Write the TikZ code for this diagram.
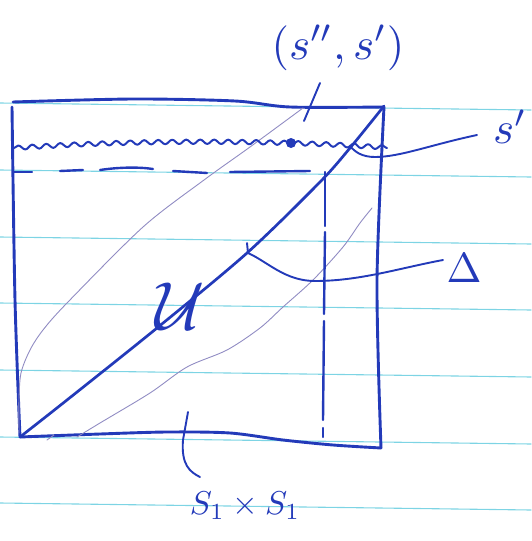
\documentclass[tikz,border=0pt]{standalone}
\usetikzlibrary{decorations.pathmorphing}
\definecolor{ink}{RGB}{35,58,185}
\definecolor{pencil}{RGB}{145,140,195}
\definecolor{paperrule}{RGB}{125,212,228}
\begin{document}
\begin{tikzpicture}[x=1pt,y=-1pt,line cap=round,line join=round,
  boxline/.style={ink,line width=2.9pt},
  diag/.style={ink,line width=2.7pt},
  thin/.style={pencil,line width=0.9pt},
  lead/.style={ink,line width=1.9pt},
  dashline/.style={ink,line width=2.4pt},
  lbl/.style={ink,inner sep=0pt}]
\useasboundingbox (0,0) rectangle (531,541);
% paper rules
\foreach \yy in {103,170,237,303,370,437,503}
  \draw[paperrule,line width=1.1pt] (0,\yy) -- (531,{\yy+7});
% square
\draw[boxline] plot[smooth,tension=0.5] coordinates {(13,102) (133,99) (235,101) (290,107) (384,107)};
\draw[boxline] plot[smooth] coordinates {(384,107) (377,280) (381,448)};
\draw[boxline] plot[smooth,tension=0.5] coordinates {(381,448) (333,445) (283,440) (230,433) (167,432) (100,434) (20,437)};
\draw[boxline] plot[smooth] coordinates {(20,437) (15,300) (12,107)};
% thin pencil lines
\draw[thin] plot[smooth] coordinates {(19,433) (19,400) (21,373) (30,350) (43,330) (67,303) (143,227) (204,180) (250,147) (303,108)};
\draw[thin] plot[smooth] coordinates {(77,437) (100,423) (150,393) (187,367) (227,350) (260,328) (283,307) (313,280) (343,247) (360,223) (372,208)};
\draw[thin] (47,440) -- (54,435);
% wavy line s'
\draw[ink,line width=2pt,decorate,decoration={snake,amplitude=2.2pt,segment length=14pt}]
  (14,148) .. controls (120,141) and (250,139) .. (387,148);
\fill[ink] (291,143) circle (5);
% horizontal dashed line
\draw[dashline] (13,172) -- (32,172);
\draw[dashline] (60,171) -- (83,170);
\draw[dashline] (100,170) .. controls (120,167) and (140,167) .. (153,169);
\draw[dashline] (173,171) -- (207,173);
\draw[dashline] (230,172) -- (310,171);
% vertical dashed line
\draw[dashline] (325,172) -- (325,226);
\draw[dashline] (325,232) -- (324,314);
\draw[dashline] (324,321) -- (323,420);
\draw[dashline] (323,428) -- (323,437);
% diagonal Delta
\draw[diag] plot[smooth] coordinates {(20,437) (67,400) (157,328) (247,253) (320,182) (350,148) (384,106)};
% labels
\node[lbl,scale=4.5] (lss) at (338,48) {$(s'',s')$};
\node[lbl,scale=4.5] (lsp) at (510,127) {$s'$};
\node[lbl,scale=4.2] (ldelta) at (464,268) {$\Delta$};
\node[lbl,scale=6.8] (lu) at (180,306) {$\mathcal{U}$};
\node[lbl,scale=3.3] (lss1) at (245,506) {$S_1\times S_1$};
% leader end points
\coordinate (dot) at (304,121);
\coordinate (cross) at (350,146);
\coordinate (ondiag) at (247,243);
\coordinate (onbottom) at (188,412);
\coordinate (lssfoot) at (320,83);
\coordinate (lspfoot) at (477,135);
\coordinate (ldeltafoot) at (443,260);
\coordinate (lss1foot) at (200,477);
% leaders
\draw[lead] (lssfoot) -- (dot);
\draw[lead] (lspfoot) .. controls (430,145) and (400,157) .. (375,157) .. controls (362,157) and (355,152) .. (cross);
\draw[lead] (ldeltafoot) .. controls (400,268) and (360,281) .. (315,281) .. controls (285,281) and (268,262) .. (248,253) -- (ondiag);
\draw[lead] (lss1foot) .. controls (190,472) and (181,465) .. (183,440) -- (onbottom);
\end{tikzpicture}
\end{document}
